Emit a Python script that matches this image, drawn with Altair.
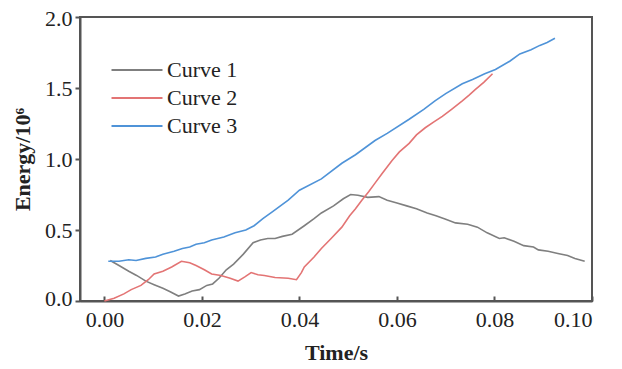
import altair as alt
import pandas as pd

# ---- data ----
c1_t = [0.0012, 0.003, 0.005, 0.0066, 0.0085, 0.0102, 0.012, 0.0135, 0.0152, 0.0165,
        0.018, 0.0195, 0.021, 0.0222, 0.0235, 0.025, 0.0265, 0.0285, 0.0305, 0.032,
        0.0335, 0.035, 0.0365, 0.0385, 0.041, 0.043, 0.0445, 0.047, 0.049, 0.0505,
        0.052, 0.054, 0.0563, 0.058, 0.060, 0.062, 0.064, 0.0662, 0.068, 0.070,
        0.072, 0.0745, 0.0765, 0.0785, 0.081, 0.082, 0.084, 0.086, 0.088, 0.089,
        0.091, 0.093, 0.095, 0.0965, 0.0985]
c1_e = [0.285, 0.25, 0.21, 0.18, 0.14, 0.115, 0.09, 0.065, 0.035, 0.05,
        0.07, 0.08, 0.11, 0.12, 0.16, 0.22, 0.26, 0.33, 0.41, 0.43,
        0.44, 0.44, 0.455, 0.47, 0.53, 0.58, 0.62, 0.67, 0.72, 0.75,
        0.745, 0.73, 0.735, 0.71, 0.69, 0.67, 0.65, 0.62, 0.60, 0.575,
        0.55, 0.54, 0.52, 0.48, 0.44, 0.445, 0.42, 0.39, 0.38, 0.36,
        0.35, 0.335, 0.32, 0.30, 0.28]

c2_t = [0.0, 0.002, 0.004, 0.0055, 0.0075, 0.009, 0.0102, 0.012, 0.0138, 0.0158,
        0.0175, 0.0188, 0.0205, 0.022, 0.0239, 0.0258, 0.0274, 0.0288, 0.0301, 0.0315,
        0.0328, 0.035, 0.0377, 0.0394, 0.0404, 0.041, 0.043, 0.0445, 0.0465, 0.0487,
        0.0503, 0.0515, 0.0528, 0.0542, 0.0555, 0.057, 0.059, 0.0605, 0.0625, 0.064,
        0.0658, 0.0675, 0.0693, 0.0712, 0.0734, 0.0748, 0.0761, 0.0778, 0.0796]
c2_e = [0.0, 0.02, 0.05, 0.08, 0.11, 0.15, 0.19, 0.21, 0.24, 0.28,
        0.27, 0.25, 0.22, 0.19, 0.18, 0.16, 0.14, 0.17, 0.20, 0.185,
        0.18, 0.165, 0.16, 0.15, 0.20, 0.24, 0.31, 0.37, 0.44, 0.52,
        0.60, 0.65, 0.71, 0.77, 0.83, 0.90, 0.99, 1.05, 1.11, 1.17,
        1.22, 1.26, 1.30, 1.35, 1.41, 1.45, 1.49, 1.54, 1.60]

c3_t = [0.0008, 0.003, 0.005, 0.0065, 0.0085, 0.0105, 0.012, 0.0143, 0.016, 0.0175,
        0.0188, 0.0205, 0.022, 0.0245, 0.0268, 0.029, 0.0307, 0.0325, 0.0345, 0.0377,
        0.040, 0.0445, 0.0487, 0.0515, 0.0555, 0.058, 0.0625, 0.0655, 0.0678, 0.070,
        0.0734, 0.0755, 0.078, 0.0802, 0.0832, 0.0852, 0.0875, 0.0893, 0.0908, 0.0924]
c3_e = [0.28, 0.28, 0.29, 0.285, 0.30, 0.31, 0.33, 0.35, 0.37, 0.38,
        0.40, 0.41, 0.43, 0.45, 0.48, 0.50, 0.53, 0.58, 0.63, 0.71,
        0.78, 0.86, 0.97, 1.03, 1.13, 1.18, 1.28, 1.35, 1.41, 1.46,
        1.53, 1.56, 1.60, 1.63, 1.69, 1.74, 1.77, 1.80, 1.82, 1.85]

series_names = ["Curve 1", "Curve 2", "Curve 3"]
series_colors = ["#7f7f7f", "#e37474", "#4f93d8"]
x_ticks = [0.0, 0.02, 0.04, 0.06, 0.08, 0.10]
y_ticks = [0.0, 0.5, 1.0, 1.5, 2.0]

rows = []
for name, ts, es in zip(series_names, [c1_t, c2_t, c3_t], [c1_e, c2_e, c3_e]):
    for i, (t, e) in enumerate(zip(ts, es)):
        rows.append({"series": name, "t": t, "e": e, "order": i})
df = pd.DataFrame(rows)

FONT = "Liberation Serif"
W, H = 512, 284

x_scale = alt.Scale(domain=[-0.005, 0.1], nice=False, zero=False)
y_scale = alt.Scale(domain=[0, 2], nice=False)

y_axis = alt.Axis(values=y_ticks, format=".1f", tickSize=5,
                  labelPadding=3, titlePadding=10,
                  labelFlush=True, labelFlushOffset=9)

color = alt.Color(
    "series:N",
    scale=alt.Scale(domain=series_names, range=series_colors),
    legend=alt.Legend(
        title=None, orient="none", legendX=46, legendY=42,
        symbolType="M-5,0H5", symbolSize=104, symbolStrokeWidth=2,
        labelFont=FONT, labelFontSize=22, labelColor="#222",
        labelOffset=19, rowPadding=6,
    ),
)

lines = alt.Chart(df).mark_line(strokeWidth=1.6).encode(
    x=alt.X("t:Q", scale=x_scale, title="Time/s",
            axis=alt.Axis(values=x_ticks, format=".2f", orient="bottom",
                          ticks=False, tickSize=0, labelPadding=8,
                          titlePadding=12)),
    y=alt.Y("e:Q", scale=y_scale, title="Energy/10⁶", axis=y_axis),
    color=color,
    order="order:Q",
)

ticks_layer = alt.Chart(df).mark_line(strokeOpacity=0).encode(
    x=alt.X("t:Q", scale=x_scale,
            axis=alt.Axis(values=x_ticks, orient="top", offset=-H, labels=False,
                          title=None, tickSize=5, domain=False)),
    y=alt.Y("e:Q", scale=y_scale, title="Energy/10⁶", axis=y_axis),
    detail="series:N",
)

chart = alt.layer(lines, ticks_layer).resolve_axis(x="independent").properties(
    width=W, height=H,
    autosize=alt.AutoSizeParams(type="none"),
    padding={"left": 72, "top": 9, "right": 20, "bottom": 64},
).configure_view(
    stroke="#555", strokeWidth=2,
).configure_axis(
    grid=False, labelFont=FONT, labelFontSize=22, labelColor="#222",
    titleFont=FONT, titleFontSize=22, titleFontWeight="bold", titleColor="#222",
    domainColor="#555", domainWidth=2, tickColor="#555", tickWidth=2,
)

chart.save("out.html", embed_options={"renderer": "svg", "actions": False})
